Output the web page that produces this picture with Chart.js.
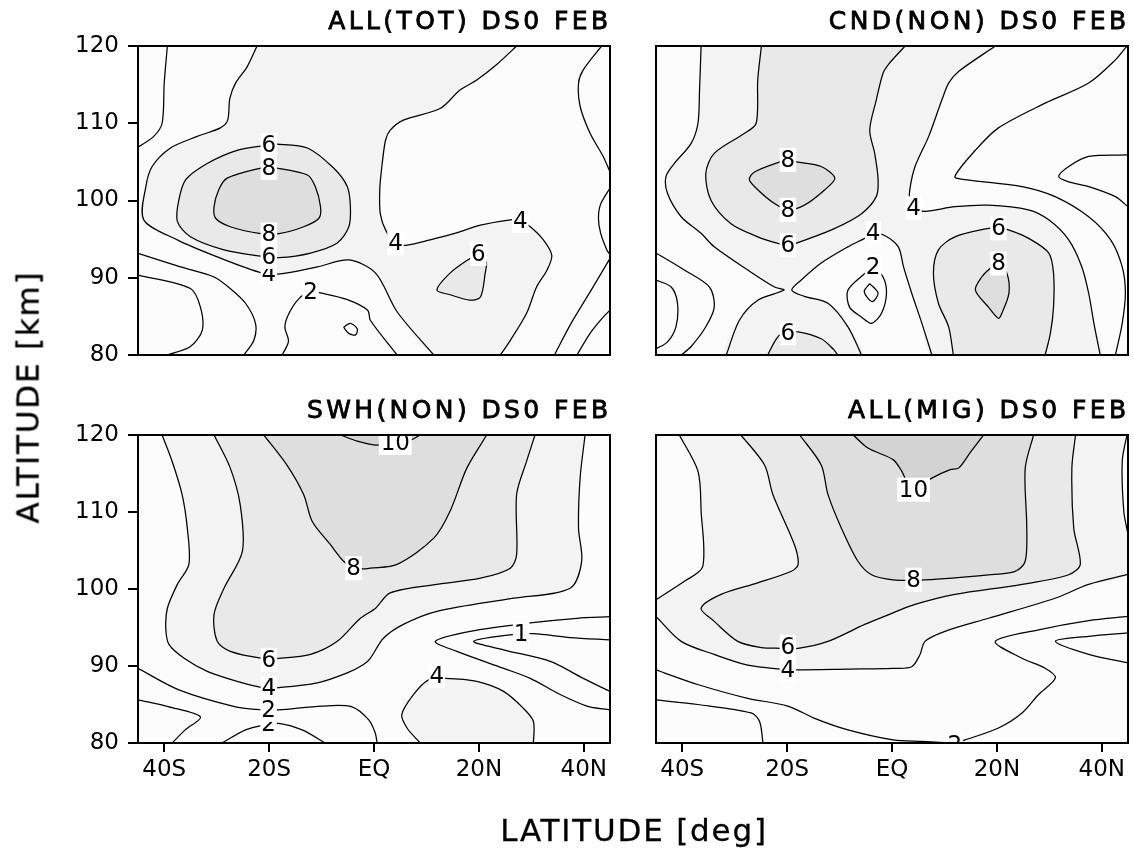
<!DOCTYPE html>
<html>
<head>
<meta charset="utf-8">
<script src="https://cdn.jsdelivr.net/npm/chart.js@4.4.1/dist/chart.umd.min.js"></script>
<style>
  html, body { margin: 0; padding: 0; background: #fff; }
  #page { position: relative; width: 1133px; height: 852px; overflow: hidden; font-family: "DejaVu Sans", sans-serif; color: #000; }
  #page canvas { position: absolute; left: 0; top: 0; }
  .ptitle { position: absolute; font-size: 25px; line-height: 25px; letter-spacing: 3.4px; white-space: nowrap; -webkit-text-stroke: 0.8px #000; }
  .axtitle { position: absolute; font-size: 31px; line-height: 31px; letter-spacing: 1.8px; white-space: nowrap; -webkit-text-stroke: 0.3px #000; }
</style>
</head>
<body>
<div id="page">
  <canvas id="c0" width="1133" height="852"></canvas>
  <canvas id="c1" width="1133" height="852"></canvas>
  <canvas id="c2" width="1133" height="852"></canvas>
  <canvas id="c3" width="1133" height="852"></canvas>
  <div class="ptitle" id="t0"></div>
  <div class="ptitle" id="t1"></div>
  <div class="ptitle" id="t2"></div>
  <div class="ptitle" id="t3"></div>
  <div class="axtitle" id="ylab">ALTITUDE [km]</div>
  <div class="axtitle" id="xlab">LATITUDE [deg]</div>
</div>
<script>
// ---- axes ----
const latTicks = [-40, -20, 0, 20, 40];
const latTickText = ['40S', '20S', 'EQ', '20N', '40N'];
const altTicks = [80, 90, 100, 110, 120];
const panelTitles = ['ALL(TOT) DS0 FEB', 'CND(NON) DS0 FEB', 'SWH(NON) DS0 FEB', 'ALL(MIG) DS0 FEB'];

// shading for regions above each contour level
const shadeLevels = [4, 6, 8, 10];
const shadeGreys = ['#f3f3f3', '#e9e9e9', '#dedede', '#d3d3d3'];

function rev(a) { return a.slice().reverse(); }

// ---- ALL(TOT): contour lines as [latitude, altitude] ----
const tot2a = [[-39.4,120],[-40.0,115.2],[-40.4,110],[-42,108.3],[-45,106.9]];
const tot4a = [[-22.3,120],[-24.2,117.3],[-26.4,115.2],[-27.5,113.2],[-27.9,110.4],[-29.3,109.4],[-33.7,108.3],[-38.8,106.8],[-42.3,104.4],[-43.5,101.8],[-43.9,97.5],[-37.5,94.9],[-29.9,92.7],[-21.3,90.6],[-17.8,90.5],[-10.8,91.4],[-4.8,92.3],[0.3,90.6],[4.4,85.6],[11.4,80]];
const tot4b = [[27.2,120],[23.4,117.6],[19.6,115.6],[16.4,114.3],[12.6,111.9],[5.6,110.4],[3.1,109.1],[2.2,107.8],[1.5,104.4],[1.1,101.4],[1.2,98.3],[2.2,96.2],[4.1,94.5],[6.0,94.2],[10.7,94.9],[15.2,95.7],[20.3,96.8],[26.0,97.5],[27.9,97.4],[29.8,96.6],[32.3,94.9],[33.9,92.9],[33.0,91.0],[31.0,88.8],[29.1,85.4],[26.0,81.9],[24.1,80]];
const tot6a = [[-20.05,107.2],[-18.5,107.3],[-12.7,106.8],[-7.7,104.2],[-5.1,101.8],[-4.5,99.2],[-4.8,96.6],[-7.0,94.5],[-12.1,93.2],[-18.1,92.6],[-21.6,92.8],[-28.6,93.6],[-35.0,95.3],[-37.5,97.3],[-37.2,100.1],[-35.9,102.7],[-31.8,104.8],[-26.1,106.5]];
const tot8a = [[-20.05,104.2],[-18.5,104.2],[-12.7,103.3],[-11.2,101.8],[-10.2,99.2],[-10.5,97.7],[-13.4,96.6],[-18.1,95.7],[-21.6,95.7],[-27.4,96.6],[-30.2,97.7],[-30.5,99.2],[-29.6,101.4],[-28.0,102.9],[-21.6,104.2]];
const tot6b = [[19.9,93.1],[18.3,92.5],[14.5,90.6],[12.0,88.4],[14.5,87.8],[18.3,87.1],[20.3,87.5],[21.2,90.6],[21.4,92.1]];
const tot2b = [[43.4,120],[39.9,116.9],[39.0,115.2],[39.3,112.2],[41.2,108.7],[43.7,105.7],[45,103.7]];
const tot2c = [[45,101.6],[43.2,99.5],[42.8,97.7],[43.2,95.8],[44.4,93.6],[45,93.0]];
const tot2d = [[45,92.5],[41.5,88.5],[37.5,84],[34.4,80]];
const tot2e = [[45,85.8],[43.7,84.9],[41.2,82.8],[38.7,80]];
const tot2f = [[-45,93.15],[-36.9,91.4],[-30.5,90.1],[-27.4,88.6],[-24.5,86.7],[-22.6,84.1],[-22.9,81.9],[-24.8,80]];
const tot2g = [[-45,90.35],[-35.0,88.6],[-33.1,86.2],[-32.75,83.2],[-35.0,81.1],[-39.4,80]];
const tot2h = [[-17.5,80],[-16.3,81.8],[-17.0,83.6],[-16.2,85.4],[-14.3,87.3],[-12.1,88.2],[-10.0,88.0],[-5.2,87.2],[-1.2,85.8],[-0.7,84.5],[4.4,80]];
const tot1a = [[-5.8,83.6],[-4.5,84.1],[-3.2,83.4],[-3.5,82.6],[-4.8,82.8]];

const totContours = [
  { level: 2, pts: tot2a },
  { level: 4, pts: tot4a, labels: [[-20.05, 90.5]] },
  { level: 4, pts: tot4b, labels: [[4.1, 94.45], [27.9, 97.35]] },
  { level: 6, pts: tot6a, closed: true, labels: [[-20.05, 107.2], [-20.05, 92.7]] },
  { level: 8, pts: tot8a, closed: true, labels: [[-20.05, 104.2], [-20.05, 95.6]] },
  { level: 6, pts: tot6b, closed: true, labels: [[19.9, 93.1]] },
  { level: 2, pts: tot2b },
  { level: 2, pts: tot2c },
  { level: 2, pts: tot2d },
  { level: 2, pts: tot2e },
  { level: 2, pts: tot2f },
  { level: 2, pts: tot2g },
  { level: 2, pts: tot2h, labels: [[-12.1, 88.2]] },
  { level: 1, pts: tot1a, closed: true }
];
const totShading = [
  { level: 4, pts: [...tot4a, ...rev(tot4b)] },
  { level: 6, pts: tot6a },
  { level: 6, pts: tot6b },
  { level: 8, pts: tot8a }
];

// ---- CND(NON) ----
const cnd4a = [[-36.4,120],[-36.7,114.3],[-37.0,110.0],[-38.3,107.4],[-41.5,104.8],[-43.1,103.1],[-42.8,100.9],[-40.2,97.9],[-36.4,95.75],[-33.9,94.0],[-27.5,91.0],[-22.4,88.8],[-20.6,88.4],[-25.6,87.1],[-29.1,84.5],[-31.6,80]];
const cnd4b = [[-5.8,80],[-8.4,83.65],[-12.2,86.7],[-16.7,87.6],[-19.1,88.4],[-17.3,89.7],[-13.5,91.9],[-8.4,94.0],[-5.2,95.1],[-3.6,95.75],[-1.5,95.5],[1.2,94.0],[2.2,91.4],[3.76,88.0],[5.7,84.1],[7.6,80]];
const cnd4c = [[19.7,120],[12.7,116.7],[10.8,115.2],[9.5,113.0],[7.0,108.3],[4.4,104.4],[3.4,101.4],[3.4,99.6],[4.1,99.0],[6.3,98.6],[12.0,99.2],[18.4,99.4],[26.0,98.8],[29.9,97.5],[33.7,94.9],[36.2,91.4],[37.5,88.0],[38.5,84.1],[39.7,80]];
const cnd6a = [[-24.9,120],[-25.6,115.6],[-25.9,110],[-28.1,108.7],[-33.9,106.1],[-35.5,103.5],[-34.5,100.0],[-30.7,97.0],[-25.6,95.3],[-21.76,94.45],[-19.85,94.2],[-17.3,94.7],[-10.9,96.4],[-5.8,98.3],[-3.0,100.5],[-2.65,102.7],[-3.3,106.1],[-4.25,109.1],[-3.0,113.0],[-1.7,116.5],[-0.7,117.6],[2.5,120]];
const cnd6b = [[-23.7,80],[-22.4,81.7],[-21.4,82.6],[-19.85,82.8],[-17.9,83.0],[-13.5,82.1],[-11.25,80.8],[-10.3,80]];
const cnd6c = [[11.7,80],[10.8,83.65],[8.85,86.7],[7.9,90.6],[8.85,93.6],[12.0,95.3],[18.4,96.4],[20.3,96.4],[22.2,96.2],[26.05,95.1],[29.9,93.2],[30.8,90.6],[30.8,86.2],[30.2,82.8],[29.2,80]];
const cnd8a = [[-19.85,105.25],[-18.26,105.0],[-13.5,104.4],[-10.9,102.9],[-12.8,101.4],[-16.7,99.4],[-19.85,98.8],[-22.4,99.6],[-25.6,101.4],[-27.2,102.7],[-26.2,103.7],[-21.4,105.0]];
const cnd8b = [[20.3,91.85],[21.9,90.6],[22.3,88.0],[20.95,85.4],[20.3,84.75],[18.4,86.2],[15.9,88.4],[17.1,90.1],[18.7,91.2]];
const cnd2a = [[-3.6,91.4],[-5.2,90.55],[-8.4,88.4],[-8.1,86.2],[-5.8,84.9],[-3.9,84.1],[-2.0,85.4],[-1.05,88.0],[-1.7,90.1]];
const cnd1a = [[-4.25,89.25],[-2.65,88.0],[-3.8,86.9],[-5.3,88.2]];
const cnd2b = [[-45,93.2],[-39.6,91.0],[-34.8,88.8],[-33.9,86.2],[-35.5,83.65],[-38.3,81.1],[-40.2,80]];
const cnd2c = [[-45,89.7],[-42.1,88.8],[-40.9,86.7],[-41.2,83.65],[-42.8,81.7],[-45,80.8]];
const cnd2d = [[44.8,120],[42.6,118.2],[37.5,115.2],[29.2,112.6],[20.3,109.4],[15.9,106.5],[12.0,103.1],[13.9,102.7],[24.8,101.8],[31.1,100.5],[37.5,97.9],[41.7,94.9],[43.9,91.4],[44.5,88.0],[43.9,84.1],[42.6,80]];
const cnd2e = [[45,105.9],[37.5,105.7],[33.7,104.4],[31.8,103.1],[33.7,102.4],[37.5,101.8],[42.6,100.5],[45,99.2]];

const cndContours = [
  { level: 4, pts: cnd4a },
  { level: 4, pts: cnd4b, labels: [[-3.6, 95.75]] },
  { level: 4, pts: cnd4c, labels: [[4.1, 99.0]] },
  { level: 6, pts: cnd6a, labels: [[-19.85, 94.2]] },
  { level: 6, pts: cnd6b, labels: [[-19.85, 82.8]] },
  { level: 6, pts: cnd6c, labels: [[20.3, 96.4]] },
  { level: 8, pts: cnd8a, closed: true, labels: [[-19.85, 105.25], [-19.85, 98.8]] },
  { level: 8, pts: cnd8b, closed: true, labels: [[20.3, 91.85]] },
  { level: 2, pts: cnd2a, closed: true, labels: [[-3.6, 91.4]] },
  { level: 1, pts: cnd1a, closed: true },
  { level: 2, pts: cnd2b },
  { level: 2, pts: cnd2c },
  { level: 2, pts: cnd2d },
  { level: 2, pts: cnd2e }
];
const cndShading = [
  { level: 4, pts: [...cnd4a, ...cnd4b, ...rev(cnd4c)] },
  { level: 6, pts: cnd6a },
  { level: 6, pts: cnd6b },
  { level: 6, pts: cnd6c },
  { level: 8, pts: cnd8a },
  { level: 8, pts: cnd8b }
];

// ---- SWH(NON) ----
const swh4a = [[-40.4,120],[-38.5,116.6],[-36.6,112.3],[-35.6,107.9],[-35.3,103.2],[-37.5,100.6],[-39.4,97.5],[-39.7,94.9],[-39.1,92.8],[-36.2,91.0],[-31.8,89.3],[-26.1,88.0],[-21.3,87.2],[-18.1,87.2],[-10.8,87.8],[-5.1,89.1],[-2.0,90.2],[-0.7,91.0],[1.8,93.6],[5.6,95.4],[12.0,97.1],[26.6,98.8],[37.4,100.1],[39.6,103.6],[39.0,107.9],[39.3,114.4],[40.25,120]];
const swh6a = [[-30.5,120],[-27.4,115.7],[-25.5,110.9],[-25.1,104.9],[-28.6,100.1],[-30.5,96.7],[-29.9,93.2],[-27.4,91.9],[-21.3,91.0],[-18.1,91.0],[-12.1,91.5],[-7.0,93.2],[-2.6,96.2],[0.3,97.5],[3.1,99.5],[12.0,100.6],[20.3,101.4],[26.0,102.7],[27.2,104.5],[27.2,112.3],[29.1,116.6],[30.7,120]];
const swh8a = [[-21.0,120],[-16.6,116.1],[-13.4,112.25],[-11.8,108.8],[-8.3,105.75],[-5.8,103.6],[-3.9,102.7],[-2.0,102.6],[-0.7,102.7],[4.4,103.2],[11.4,106.6],[14.5,110.1],[17.7,115.7],[21.5,120]];
const swh10a = [[-6.4,120],[-3.2,119.2],[0.3,118.7],[4.06,118.96],[7.2,119.4],[8.8,120]];
const swh2a = [[-45,89.7],[-37.2,86.9],[-26.4,84.7],[-21.3,84.3],[-18.2,84.3],[-9.9,84.8],[-4.2,84.7],[-1.0,83.0],[0.24,81.3],[0.6,80]];
const swh2b = [[-45,85.6],[-39.1,84.7],[-33.1,83.4],[-36.0,81.7],[-38.5,80]];
const swh2c = [[-29.0,80],[-24.5,81.7],[-21.3,82.3],[-18.2,82.55],[-13.7,81.7],[-9.3,80]];
const swh2d = [[45,96.4],[38.7,96.2],[29.8,95.6],[18.35,94.5],[11.7,93.2],[15.8,91.9],[24.7,89.7],[29.8,88.4],[35.5,86.3],[40.6,84.8],[45,84.3]];
const swh1a = [[45,93.4],[37.4,93.7],[30.4,94.2],[25.95,94.05],[19.0,93.2],[24.7,92.1],[33.6,90.6],[39.9,88.4],[45,86.7]];
const swh4b = [[8.8,80],[6.3,81.95],[5.3,83.7],[7.55,86.3],[10.4,88.2],[13.6,88.4],[19.6,88.0],[24.7,86.7],[28.5,84.5],[30.4,82.8],[30.4,80]];

const swhContours = [
  { level: 4, pts: swh4a, labels: [[-20.05, 87.15]] },
  { level: 6, pts: swh6a, labels: [[-20.05, 90.8]] },
  { level: 8, pts: swh8a, labels: [[-3.9, 102.7]] },
  { level: 10, pts: swh10a, labels: [[4.06, 118.96]] },
  { level: 2, pts: swh2c, labels: [[-20.1, 82.45]] },
  { level: 2, pts: swh2a, labels: [[-20.1, 84.3]] },
  { level: 2, pts: swh2b },
  { level: 2, pts: swh2d },
  { level: 1, pts: swh1a, labels: [[28.05, 94.2]] },
  { level: 4, pts: swh4b, labels: [[11.98, 88.7]] }
];
const swhShading = [
  { level: 4, pts: swh4a },
  { level: 4, pts: swh4b },
  { level: 6, pts: swh6a },
  { level: 8, pts: swh8a },
  { level: 10, pts: swh10a }
];

// ---- ALL(MIG) ----
const mig4a = [[-40.55,120],[-37.0,115.3],[-36.4,110.1],[-36.1,102.9],[-39.6,101.0],[-45,98.6]];
const mig4b = [[-45,96.45],[-40.2,93.2],[-33.9,91.5],[-27.5,90.1],[-21.4,89.6],[-17.9,89.5],[-8.4,89.6],[0.2,89.7],[3.75,89.9],[5.35,91.5],[6.3,93.2],[10.1,94.5],[18.4,96.2],[31.1,98.8],[37.5,100.6],[45,101.9]];
const mig4c = [[44.8,120],[43.9,116.6],[44.2,110.1],[45,107.1]];
const mig6a = [[-28.8,120],[-24.3,116.1],[-22.7,112.25],[-18.6,105.75],[-17.9,103.2],[-19.2,102.3],[-25.6,100.8],[-32.6,99.3],[-36.4,97.5],[-33.9,95.8],[-29.4,93.2],[-24.95,92.4],[-21.4,92.3],[-17.9,92.3],[-12.2,93.2],[-5.2,95.4],[0.2,96.9],[4.4,98.0],[12.0,99.3],[24.8,100.6],[33.7,101.85],[35.9,103.2],[34.65,107.9],[34.3,115.7],[35.0,120]];
const mig8a = [[-17.6,120],[-13.5,116.1],[-12.2,112.25],[-9.65,107.9],[-6.5,103.6],[-3.9,101.85],[0.2,101.2],[6.3,101.2],[18.4,101.85],[23.5,102.3],[25.4,103.6],[25.7,107.9],[25.4,115.7],[27.0,120]];
const mig10a = [[-7.4,120],[-4.6,118.3],[0.2,116.8],[1.85,115.3],[2.8,114.0],[4.1,112.9],[7.6,114.4],[11.1,115.5],[12.7,115.7],[14.9,117.7],[17.45,120]];
const mig2a = [[-45,89.5],[-37.05,87.6],[-27.5,85.8],[-19.85,84.8],[-14.75,83.2],[-8.4,81.7],[0.2,80.4],[5.7,80.2],[12.0,80.0],[13.95,80.4],[20.3,81.95],[24.8,83.9],[27.95,86.3],[31.15,88.45],[29.2,89.7],[24.8,91.0],[19.7,93.2],[27.95,94.7],[37.5,95.9],[45,96.45]];
const mig1a = [[45,94.3],[37.5,93.85],[31.15,93.2],[37.5,91.5],[45,90.4]];
const mig2b = [[-45,85.6],[-37.05,85.0],[-26.85,83.9],[-25.25,82.8],[-24.6,80]];

const migContours = [
  { level: 4, pts: mig4a },
  { level: 4, pts: mig4b, labels: [[-19.85, 89.45]] },
  { level: 4, pts: mig4c },
  { level: 6, pts: mig6a, labels: [[-19.85, 92.5]] },
  { level: 8, pts: mig8a, labels: [[4.1, 101.2]] },
  { level: 10, pts: mig10a, labels: [[4.1, 112.9]] },
  { level: 2, pts: mig2a, labels: [[12.0, 79.8]] },
  { level: 1, pts: mig1a },
  { level: 2, pts: mig2b }
];
const migShading = [
  { level: 4, pts: [...mig4a, ...mig4b, ...rev(mig4c)] },
  { level: 6, pts: mig6a },
  { level: 8, pts: mig8a },
  { level: 10, pts: mig10a }
];

// ---- page layout (pixel boxes of the four plot areas) ----
const CW = 1133, CH = 852;
const panels = [
  { box: { l: 138, t: 46, r: 610, b: 355 }, xAxis: false, yAxis: true, contours: totContours, shading: totShading },
  { box: { l: 656, t: 46, r: 1128, b: 355 }, xAxis: false, yAxis: false, contours: cndContours, shading: cndShading },
  { box: { l: 138, t: 435, r: 610, b: 743 }, xAxis: true, yAxis: true, contours: swhContours, shading: swhShading },
  { box: { l: 656, t: 435, r: 1128, b: 743 }, xAxis: true, yAxis: false, contours: migContours, shading: migShading }
];
const Y_AXIS_W = 80, X_AXIS_H = 60;

const asXY = pts => pts.map(p => ({ x: p[0], y: p[1] }));

function shadeFor(level) { return shadeGreys[shadeLevels.indexOf(level)]; }

function buildDatasets(contours, shading) {
  const ds = [];
  contours.forEach(c => {
    const pts = c.closed ? c.pts.concat([c.pts[0]]) : c.pts;
    ds.push({
      data: asXY(pts), showLine: true, fill: false,
      borderColor: '#000', borderWidth: 1.25, tension: 0.3,
      pointRadius: 0, pointHoverRadius: 0, order: 0,
      contourLevel: c.level, contourLabels: c.labels || []
    });
  });
  shading.forEach(s => {
    ds.push({
      data: asXY(s.pts), showLine: true, fill: 'shape',
      backgroundColor: shadeFor(s.level), borderColor: 'rgba(0,0,0,0)', borderWidth: 1,
      tension: 0.3, pointRadius: 0, pointHoverRadius: 0, order: 100 - s.level
    });
  });
  return ds;
}

// plot-area background and frame
const framePlugin = {
  id: 'frame',
  beforeDatasetsDraw(chart) {
    const { ctx, chartArea: a } = chart;
    ctx.save();
    ctx.fillStyle = '#fcfcfc';
    ctx.fillRect(a.left, a.top, a.right - a.left, a.bottom - a.top);
    ctx.restore();
  },
  afterDraw(chart) {
    const { ctx, chartArea: a } = chart;
    ctx.save();
    ctx.strokeStyle = '#000';
    ctx.lineWidth = 2;
    ctx.strokeRect(a.left, a.top, a.right - a.left, a.bottom - a.top);
    ctx.restore();
  }
};

// contour value labels in white boxes
const labelPlugin = {
  id: 'contourLabels',
  afterDatasetsDraw(chart) {
    const { ctx, chartArea: a, scales } = chart;
    ctx.save();
    ctx.beginPath();
    ctx.rect(a.left, a.top, a.right - a.left, a.bottom - a.top);
    ctx.clip();
    ctx.font = '23px "DejaVu Sans"';
    ctx.textAlign = 'center';
    ctx.textBaseline = 'middle';
    chart.data.datasets.forEach(ds => {
      (ds.contourLabels || []).forEach(([lat, alt]) => {
        const px = scales.x.getPixelForValue(lat);
        const py = scales.y.getPixelForValue(alt);
        const txt = String(ds.contourLevel);
        const w = 16.5 * txt.length, h = 24;
        ctx.fillStyle = '#fff';
        ctx.fillRect(px - w / 2, py - h / 2, w, h);
        ctx.fillStyle = '#000';
        ctx.fillText(txt, px, py + 1);
      });
    });
    ctx.restore();
  }
};

const tickFont = { family: '"DejaVu Sans"', size: 23 };

panels.forEach((p, i) => {
  const b = p.box;
  new Chart(document.getElementById('c' + i), {
    type: 'scatter',
    data: { datasets: buildDatasets(p.contours, p.shading) },
    options: {
      responsive: false, animation: false, events: [],
      layout: { padding: {
        left: b.l - (p.yAxis ? Y_AXIS_W : 0),
        right: CW - b.r,
        top: b.t,
        bottom: CH - b.b - (p.xAxis ? X_AXIS_H : 0)
      } },
      plugins: { legend: { display: false }, tooltip: { enabled: false }, title: { display: false } },
      scales: {
        x: {
          type: 'linear', min: -45, max: 45, display: p.xAxis,
          afterBuildTicks: s => { s.ticks = latTicks.map(v => ({ value: v })); },
          afterFit: s => { s.height = p.xAxis ? X_AXIS_H : 0; },
          ticks: { callback: v => latTickText[latTicks.indexOf(v)], font: tickFont, color: '#000', padding: 4, maxRotation: 0, autoSkip: false },
          grid: { drawOnChartArea: false, drawTicks: true, tickLength: 9, color: '#000', lineWidth: 2 },
          border: { display: false }
        },
        y: {
          type: 'linear', min: 80, max: 120, display: p.yAxis,
          afterBuildTicks: s => { s.ticks = altTicks.map(v => ({ value: v })); },
          afterFit: s => { s.width = p.yAxis ? Y_AXIS_W : 0; },
          ticks: { callback: v => String(v), font: tickFont, color: '#000', padding: 9 },
          grid: { drawOnChartArea: false, drawTicks: true, tickLength: 10, color: '#000', lineWidth: 2 },
          border: { display: false }
        }
      }
    },
    plugins: [framePlugin, labelPlugin]
  });

  const t = document.getElementById('t' + i);
  t.textContent = panelTitles[i];
  t.style.right = (CW - b.r - 1.5) + 'px';
  t.style.top = (b.t - 38) + 'px';
});

const yl = document.getElementById('ylab');
yl.style.left = '28px';
yl.style.top = '397px';
yl.style.transform = 'translate(-50%, -50%) rotate(-90deg)';
const xl = document.getElementById('xlab');
xl.style.left = '634px';
xl.style.top = '815px';
xl.style.transform = 'translateX(-50%)';
</script>
</body>
</html>
